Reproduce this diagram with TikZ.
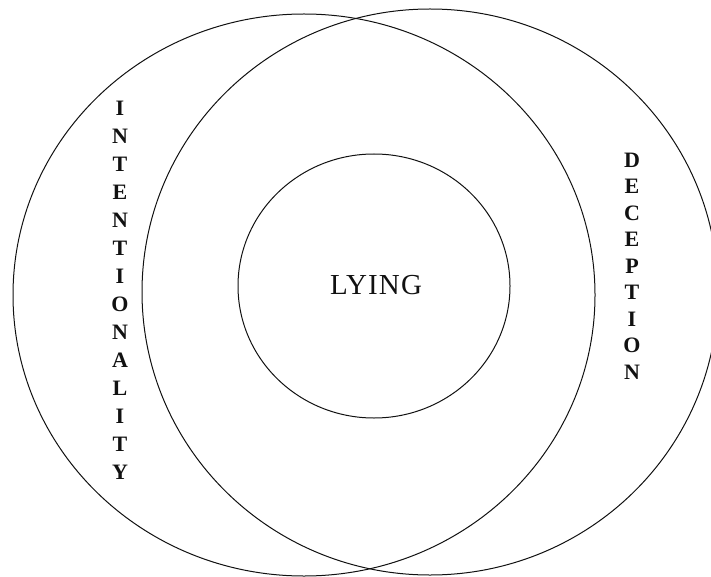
\documentclass[tikz,border=0pt]{standalone}
\usepackage{fontspec}
\setmainfont{Liberation Serif}
\usepackage{xcolor}
\definecolor{VLine}{HTML}{111111}
\definecolor{VText}{HTML}{111111}

\begin{document}
\begin{tikzpicture}[x=1pt,y=-1pt,
  ring/.style={draw=VLine,line width=1pt},
  stack/.style={text=VText,inner sep=0pt,align=center,font=\fontsize{22}{28}\selectfont\bfseries},
  core/.style={text=VText,inner sep=0pt,font=\fontsize{29}{30}\selectfont\addfontfeatures{LetterSpace=4}}]
\path[use as bounding box] (0,0) rectangle (711,577);
% the three circles
\draw[ring] (304,295) ellipse [x radius=291pt,y radius=281pt];
\draw[ring] (430,292) ellipse [x radius=288pt,y radius=283pt];
\draw[ring] (374,286) ellipse [x radius=136pt,y radius=132pt];
% labels
\node[stack] (intent) at (120,290) {I\\N\\T\\E\\N\\T\\I\\O\\N\\A\\L\\I\\T\\Y};
\node[stack,font=\fontsize{22}{26.5}\selectfont\bfseries] (decept) at (632,266) {D\\E\\C\\E\\P\\T\\I\\O\\N};
\node[core] (lying) at (376,285) {LYING};
\end{tikzpicture}
\end{document}
